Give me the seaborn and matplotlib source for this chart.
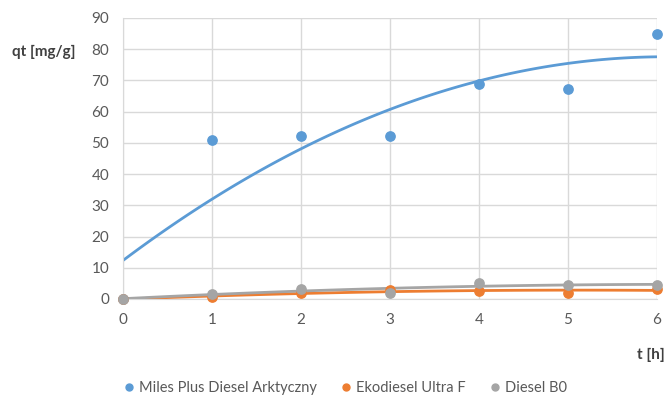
import matplotlib
matplotlib.use("Agg")
import matplotlib.pyplot as plt
import seaborn as sns
from matplotlib.lines import Line2D

# dane
czas = [0, 1, 2, 3, 4, 5, 6]
miles = [0, 50.8, 52.1, 52.1, 68.7, 67.3, 84.8]
ekodiesel = [0, 0.5, 2.0, 2.9, 2.6, 2.0, 3.2]
diesel_b0 = [0, 1.5, 3.2, 2.0, 5.0, 4.4, 4.6]

serie = ["Miles Plus Diesel Arktyczny", "Ekodiesel Ultra F", "Diesel B0"]
kolory = ["#5B9BD5", "#ED7D31", "#A5A5A5"]
x_ticks = [0, 1, 2, 3, 4, 5, 6]
y_ticks = [0, 10, 20, 30, 40, 50, 60, 70, 80, 90]

sns.set_style("white")
plt.rcParams["font.family"] = ["Lato", "DejaVu Sans"]

fig = plt.figure(figsize=(6.66, 3.96), dpi=100)
ax = fig.add_axes([0.185, 0.245, 0.801, 0.71])

for y, kolor in zip([miles, ekodiesel, diesel_b0], kolory):
    sns.regplot(x=czas, y=y, order=2, ci=None, ax=ax, color=kolor,
                scatter_kws={"s": 45, "clip_on": False, "zorder": 3, "alpha": 1},
                line_kws={"lw": 2, "zorder": 2})

ax.set_xlim(0, 6)
ax.set_ylim(0, 90)
ax.set_xticks(x_ticks)
ax.set_yticks(y_ticks)
ax.grid(True, color="#D9D9D9", lw=1)
ax.set_axisbelow(True)
for s in ["top", "right"]:
    ax.spines[s].set_visible(False)
for s in ["left", "bottom"]:
    ax.spines[s].set_color("#D9D9D9")
ax.tick_params(labelsize=11, colors="#595959", length=0, pad=10)
ax.set_xlabel("")
ax.set_ylabel("")

fig.text(0.018, 0.869, "qt [mg/g]", fontsize=11, fontweight="bold", color="#404040", va="center")
fig.text(0.998, 0.104, "t [h]", fontsize=11, fontweight="bold", color="#404040",
         ha="right", va="center")

uchwyty = [Line2D([], [], marker="o", ls="", color=k, markersize=5) for k in kolory]
fig.legend(uchwyty, serie, loc="center", bbox_to_anchor=(0.518, 0.02), ncol=3,
           frameon=False, fontsize=10.5, handlelength=0.8, handletextpad=0.3,
           columnspacing=1.6, labelcolor="#595959")

fig.savefig("out.png", dpi=100)
